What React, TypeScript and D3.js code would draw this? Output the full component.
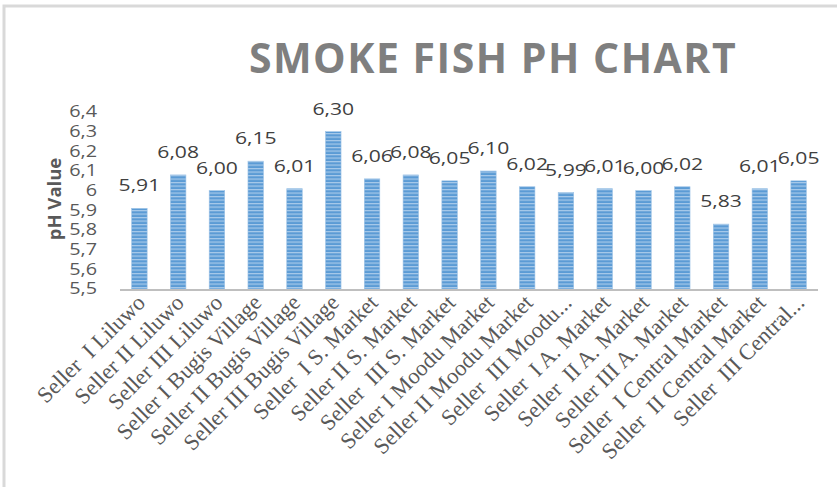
import React, { useEffect, useRef } from 'react';
import * as d3 from 'd3';

const sellers = [
  'Seller  I Liluwo',
  'Seller II Liluwo',
  'Seller III Liluwo',
  'Seller I Bugis Village',
  'Seller II Bugis Village',
  'Seller III Bugis Village',
  'Seller  I S. Market',
  'Seller II S. Market',
  'Seller  III S. Market',
  'Seller I Moodu Market',
  'Seller II Moodu Market',
  'Seller  III Moodu...',
  'Seller  I A. Market',
  'Seller  II A. Market',
  'Seller III A. Market',
  'Seller  I Central Market',
  'Seller  II Central Market',
  'Seller  III Central...',
];
const phValues = [
  5.91, 6.08, 6.0, 6.15, 6.01, 6.3, 6.06, 6.08, 6.05, 6.1, 6.02, 5.99, 6.01, 6.0, 6.02, 5.83, 6.01, 6.05,
];
const yTicks = [5.5, 5.6, 5.7, 5.8, 5.9, 6.0, 6.1, 6.2, 6.3, 6.4];

const W = 837;
const H = 487;

export default function App() {
  const svgRef = useRef<SVGSVGElement | null>(null);

  useEffect(() => {
    const svg = d3.select(svgRef.current!);
    svg.selectAll('*').remove();

    const plot = { left: 120, right: 818, top: 112, bottom: 289 };
    const data = sellers.map((name, i) => ({ name, value: phValues[i] }));
    const stretch = 1.28; // the source picture is a bit wide

    const x = d3
      .scaleBand<string>()
      .domain(sellers)
      .range([plot.left, plot.right])
      .paddingInner(0.6)
      .paddingOuter(0.3);
    const y = d3.scaleLinear().domain([5.5, 6.4]).range([plot.bottom, plot.top]);

    // striped fill like the excel pattern
    const defs = svg.append('defs');
    const pat = defs
      .append('pattern')
      .attr('id', 'stripes')
      .attr('patternUnits', 'userSpaceOnUse')
      .attr('width', 8)
      .attr('height', 3.5);
    pat.append('rect').attr('width', 8).attr('height', 3.5).attr('fill', '#5b9bd5');
    pat.append('rect').attr('y', 0).attr('width', 8).attr('height', 1.2).attr('fill', '#a8caea');

    // outer frame
    svg.append('rect').attr('width', W).attr('height', H).attr('fill', '#fff');
    svg
      .append('path')
      .attr('d', `M4,${H} V6 H${W}`)
      .attr('fill', 'none')
      .attr('stroke', '#d9d9d9')
      .attr('stroke-width', 3);

    svg
      .append('text')
      .attr('x', 493)
      .attr('y', 73)
      .attr('text-anchor', 'middle')
      .attr('font-family', 'Open Sans')
      .attr('font-weight', 700)
      .attr('font-size', 41)
      .attr('letter-spacing', 1.5)
      .attr('fill', '#7f7f7f')
      .text('SMOKE FISH PH CHART');

    // y tick labels
    svg
      .append('g')
      .selectAll('text')
      .data(yTicks)
      .join('text')
      .attr('transform', (d) => `translate(97,${y(d)}) scale(${stretch},1)`)
      .attr('dy', '0.35em')
      .attr('text-anchor', 'end')
      .attr('font-family', 'Open Sans')
      .attr('font-size', 15.5)
      .attr('fill', '#595959')
      .text((d) => (Math.abs(d - 6) < 1e-9 ? '6' : d.toFixed(1).replace('.', ',')));

    svg
      .append('text')
      .attr('transform', `translate(61,199) rotate(-90)`)
      .attr('text-anchor', 'middle')
      .attr('font-family', 'Open Sans')
      .attr('font-weight', 700)
      .attr('font-size', 18.5)
      .attr('fill', '#595959')
      .text('pH Value');

    // bars
    svg
      .append('g')
      .selectAll('rect')
      .data(data)
      .join('rect')
      .attr('x', (d) => x(d.name)!)
      .attr('width', x.bandwidth())
      .attr('y', (d) => y(d.value))
      .attr('height', (d) => y(5.5) - y(d.value))
      .attr('fill', 'url(#stripes)')
      .attr('stroke', '#9dc3e6')
      .attr('stroke-width', 0.6);

    // value labels
    svg
      .append('g')
      .selectAll('text')
      .data(data)
      .join('text')
      .attr(
        'transform',
        (d) => `translate(${x(d.name)! + x.bandwidth() / 2},${y(d.value) - 17}) scale(${stretch},1)`
      )
      .attr('text-anchor', 'middle')
      .attr('font-family', 'Open Sans')
      .attr('font-size', 16.5)
      .attr('fill', '#404040')
      .text((d) => d.value.toFixed(2).replace('.', ','));

    // baseline
    svg
      .append('line')
      .attr('x1', plot.left)
      .attr('x2', plot.right)
      .attr('y1', plot.bottom + 1)
      .attr('y2', plot.bottom + 1)
      .attr('stroke', '#bfbfbf')
      .attr('stroke-width', 2);

    // category labels
    svg
      .append('g')
      .selectAll('text')
      .data(sellers)
      .join('text')
      .attr('transform', (d) => `translate(${x(d)! + x.bandwidth() / 2 + 7},${plot.bottom + 15}) rotate(-45)`)
      .attr('text-anchor', 'end')
      .attr('font-family', 'Liberation Serif')
      .attr('font-size', 22.5)
      .attr('fill', '#595959')
      .style('white-space', 'pre')
      .text((d) => d);
  }, []);

  return (
    <svg
      ref={svgRef}
      width={W}
      height={H}
      style={{ position: 'absolute', left: 0, top: 0, background: '#fff' }}
    />
  );
}
